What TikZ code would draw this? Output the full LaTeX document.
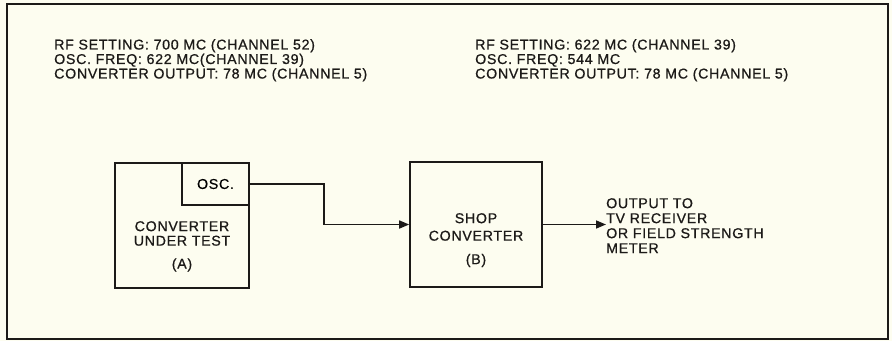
\documentclass[tikz,border=0pt]{standalone}
\usepackage{fontspec}
\setmainfont{Liberation Sans}
\usetikzlibrary{positioning, arrows.meta, calc}
\definecolor{paper}{HTML}{FDFDF0}
\definecolor{ink}{HTML}{1C1A18}
\newcommand{\lbl}{\fontsize{14.2}{14.5}\selectfont\addfontfeature{LetterSpace=5,FakeBold=0.8}}
\newcommand{\outlbl}{\fontsize{14.2}{15}\selectfont\addfontfeature{LetterSpace=5,FakeBold=0.8}}

\begin{document}
\begin{tikzpicture}[
        x=1pt, y=-1pt,
        unit/.style = {draw=ink, line width=1.6pt, inner sep=0, minimum width=134pt, minimum height=125pt},
        oscbox/.style = {draw=ink, line width=1.6pt, inner sep=0, minimum width=67pt, minimum height=42pt, font=\lbl},
        txt/.style = {inner sep=0, text=ink, font=\lbl, align=left},
        boxtxt/.style = {inner sep=0, text=ink, font=\lbl, align=center},
        arrow/.style = {-{Triangle[length=10pt, width=8pt]}, draw=ink, line width=1.6pt},
    ]
        % paper and frame
        \fill[paper] (0,0) rectangle (892,341);
        \draw[ink, line width=2pt] (7,4) rectangle (888,339);
        % settings
        \node[txt, anchor=north west] (setA) at (54,39) {RF SETTING: 700 MC (CHANNEL 52)\\OSC. FREQ: 622 MC(CHANNEL 39)\\CONVERTER OUTPUT: 78 MC (CHANNEL 5)};
        \node[txt, anchor=north west] (setB) at (475,39) {RF SETTING: 622 MC (CHANNEL 39)\\OSC. FREQ: 544 MC\\CONVERTER OUTPUT: 78 MC (CHANNEL 5)};
        % blocks
        \node[unit] (conva) at (182,225.5) {};
        \node[oscbox, anchor=north east] (osc) at (conva.north east) {OSC.};
        \node[boxtxt, anchor=north] (convatxt) at (182,221) {CONVERTER\\UNDER TEST\\[8.5pt](A)};
        \node[unit, minimum width=132pt] (shop) at (476,224.5) {};
        \node[boxtxt, anchor=north] (shoptxt) at (476,213) {SHOP\\[3pt]CONVERTER\\[9pt](B)};
        \node[txt, anchor=north west, font=\outlbl] (out) at (606,198) {OUTPUT TO\\TV RECEIVER\\OR FIELD STRENGTH\\METER};
        \coordinate (turn) at (324,0);
        % connections
        \draw[arrow] (osc.east) -- (osc.east -| turn) |- (shop.west);
        \draw[arrow] (shop.east) -- (shop.east -| out.west);
    \end{tikzpicture}
\end{document}
